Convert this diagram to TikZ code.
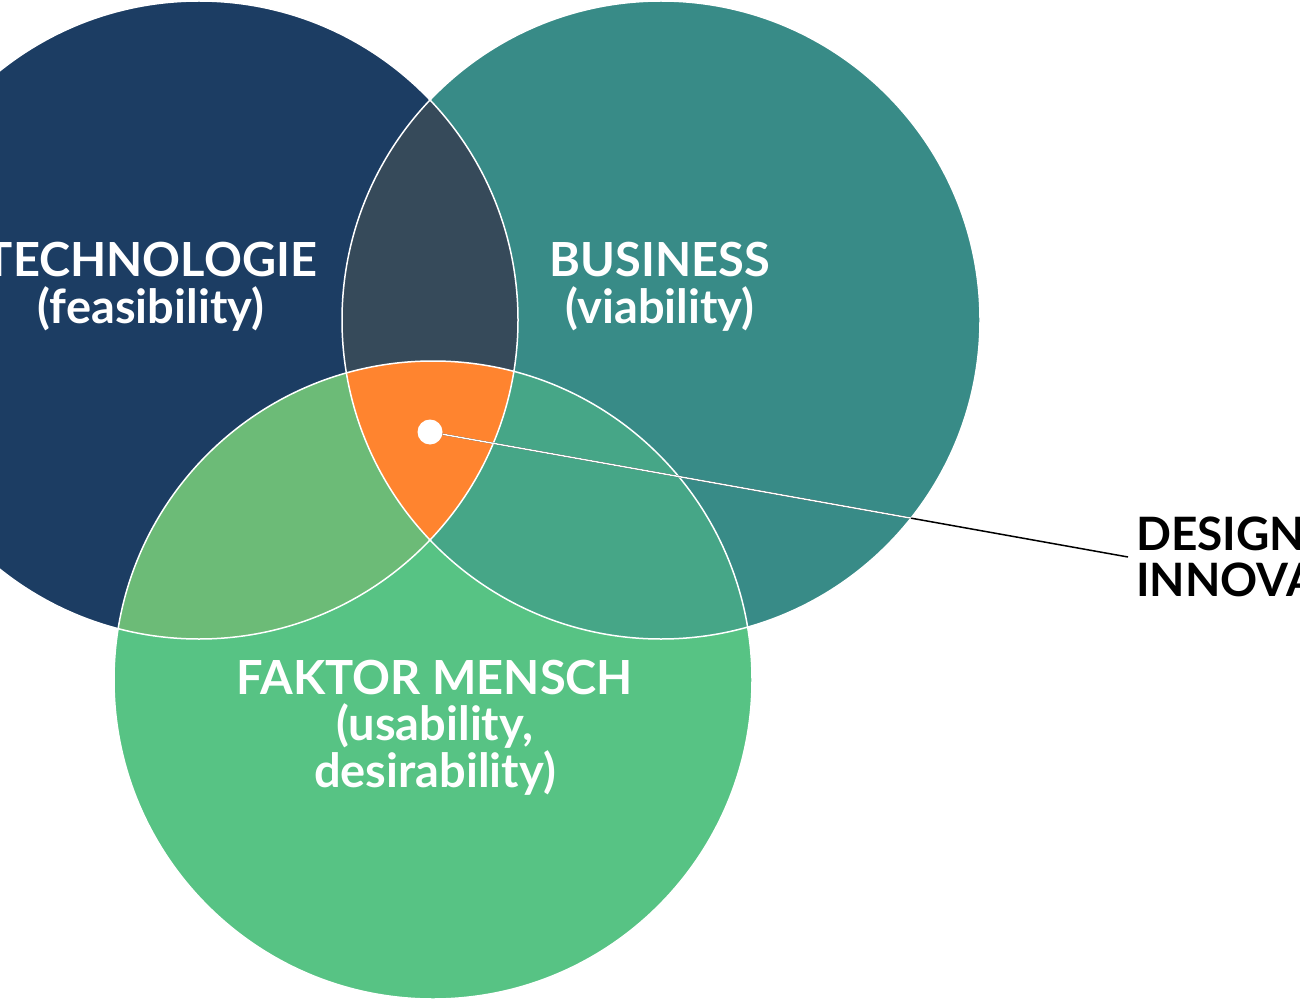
\documentclass[tikz,border=0pt]{standalone}
\usepackage{fontspec}
\setmainfont{Lato}
\usepackage{tikz}
\usetikzlibrary{positioning}

\definecolor{techblue}{HTML}{1C3D63}
\definecolor{bizteal}{HTML}{388B87}
\definecolor{humangreen}{HTML}{57C384}
\definecolor{techbiz}{HTML}{364A5A}
\definecolor{techhuman}{HTML}{6CBB77}
\definecolor{bizhuman}{HTML}{46A687}
\definecolor{designorange}{HTML}{FF842F}

\begin{document}
\begin{tikzpicture}[x=1pt,y=-1pt,
	ring/.style={draw=white,line width=1.5pt},
	venntext/.style={text=white,font=\fontsize{47}{46.5}\selectfont\bfseries,align=center,anchor=base},
	leader/.style={line width=1.5pt}]
\useasboundingbox (0,0) rectangle (1300,1000);
\coordinate (tech) at (199,320);
\coordinate (biz) at (661,320);
\coordinate (human) at (433,680);
% circles
\fill[techblue] (tech) circle (319pt);
\fill[bizteal] (biz) circle (319pt);
\fill[humangreen] (human) circle (319pt);
% overlaps
\begin{scope}
	\clip (tech) circle (319pt);
	\fill[techbiz] (biz) circle (319pt);
	\fill[techhuman] (human) circle (319pt);
	\clip (biz) circle (319pt);
	\fill[designorange] (human) circle (319pt);
\end{scope}
\begin{scope}
	\clip (biz) circle (319pt);
	\fill[bizhuman] (human) circle (319pt);
	\clip (tech) circle (319pt);
	\fill[designorange] (human) circle (319pt);
\end{scope}
\foreach \c in {tech,biz,human}
	\draw[ring] (\c) circle (319pt);
% labels (base = last line)
\node[venntext] (techlbl) at (151,323) {TECHNOLOGIE\\(feasibility)};
\node[venntext] (bizlbl) at (660,323) {BUSINESS\\(viability)};
\node[venntext] (humanlbl) at (435,787) {FAKTOR MENSCH\\(usability,\\desirability)};
\node[anchor=west,align=left,inner sep=8pt,font=\fontsize{46}{46}\selectfont\bfseries] (design) at (1128,557) {DESIGN\\INNOVATION};
% pointer
\node[circle,fill=white,minimum size=25pt,inner sep=0pt] (dot) at (430,432) {};
\draw[leader,black] (dot) -- (design.west);
\begin{scope}
	\clip (biz) circle (319pt);
	\draw[leader,white] (dot) -- (design.west);
\end{scope}
\end{tikzpicture}
\end{document}
